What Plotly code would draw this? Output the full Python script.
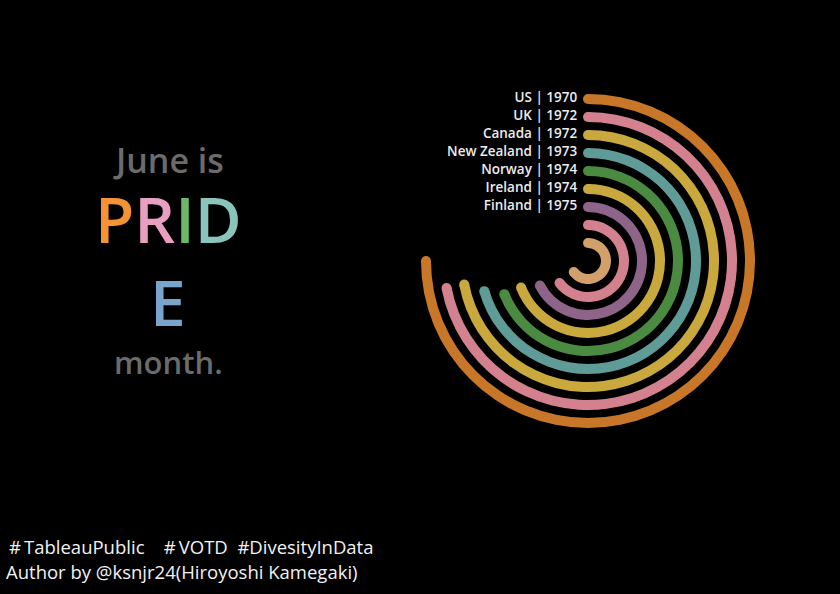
import plotly.graph_objects as go

# ---- data ----
countries = ["US", "UK", "Canada", "New Zealand", "Norway", "Ireland", "Finland", "", ""]
years = [1970, 1972, 1972, 1973, 1974, 1974, 1975, 1977, 1977]
ring_colors = ["#c87728", "#d4818f", "#c9a83e", "#5f9b97", "#4a8a41",
               "#c9a83e", "#8e6488", "#d4818f", "#d1a06b"]
reference_year = 2020
years_for_270 = 50

title_colors = {"P": "#f59233", "R": "#e9a0c0", "I": "#6cb967", "D": "#8ac5bc", "E": "#79a5cd"}

# ---- derived ----
n = len(countries)
rings = [n - i for i in range(n)]                      # outermost = first country
angles = [(reference_year - y) / years_for_270 * 270 for y in years]
thick = 0.556

fig = go.Figure()

fig.add_trace(go.Barpolar(
    r=[thick] * n,
    base=[r - thick / 2 for r in rings],
    theta=[a / 2 for a in angles],
    width=angles,
    marker=dict(color=ring_colors, line=dict(width=0)),
    hoverinfo="skip",
))

# round caps at the end of each arc
fig.add_trace(go.Scatterpolar(
    r=rings, theta=angles, mode="markers",
    marker=dict(size=10, color=ring_colors, line=dict(width=0)),
    hoverinfo="skip",
))

# round caps at the start + labels
labels = [f"{c} | {y}\u00a0" if c else "" for c, y in zip(countries, years)]
fig.add_trace(go.Scatterpolar(
    r=rings, theta=[0] * n, mode="markers+text",
    text=labels, textposition="middle left",
    textfont=dict(family="Open Sans", size=13.5, color="#ececec", weight=600),
    marker=dict(size=10, color=ring_colors, line=dict(width=0)),
    hoverinfo="skip",
))

W, H = 840, 594
cx, cy, R = 588, 261, 180
fig.update_layout(
    width=W, height=H,
    paper_bgcolor="#000000", plot_bgcolor="#000000",
    margin=dict(l=0, r=0, t=0, b=0),
    showlegend=False,
    polar=dict(
        domain=dict(x=[(cx - R) / W, (cx + R) / W], y=[(H - cy - R) / H, (H - cy + R) / H]),
        bgcolor="#000000",
        hole=0,
        radialaxis=dict(range=[0, 10], visible=False, showgrid=False),
        angularaxis=dict(rotation=90, direction="clockwise", visible=False, showgrid=False),
    ),
)

pride = "".join(f'<span style="color:{title_colors[ch]}">{ch}</span>' for ch in "PRID")
ann = [
    dict(text="June is", x=168 / W, y=1 - 160 / H, font=dict(size=34, color="#6b6b6b", family="Open Sans", weight=600)),
    dict(text=pride, x=168 / W, y=1 - 218 / H, font=dict(size=64, family="Open Sans", weight=600)),
    dict(text=f'<span style="color:{title_colors["E"]}">E</span>', x=168 / W, y=1 - 301 / H,
         font=dict(size=64, family="Open Sans", weight=600)),
    dict(text="month.", x=168 / W, y=1 - 362 / H, font=dict(size=31, color="#6b6b6b", family="Open Sans", weight=600)),
]
for a in ann:
    a.update(xref="paper", yref="paper", xanchor="center", yanchor="middle", showarrow=False)
    fig.add_annotation(**a)

footer = [
    ("#\u2009TableauPublic &nbsp;&nbsp; #\u2009VOTD &nbsp;#DivesityInData", 7, 546),
    ("Author by @ksnjr24(Hiroyoshi Kamegaki)", 4, 571),
]
for t, x, y in footer:
    fig.add_annotation(text=t, x=x / W, y=1 - y / H, xref="paper", yref="paper",
                       xanchor="left", yanchor="middle", showarrow=False,
                       font=dict(size=18.5, color="#f2f2f2", family="Open Sans"))

fig.write_html(
    "out.html",
    config={"displayModeBar": False},
    post_script="document.body.style.margin='0';document.body.style.background='#000';",
)
